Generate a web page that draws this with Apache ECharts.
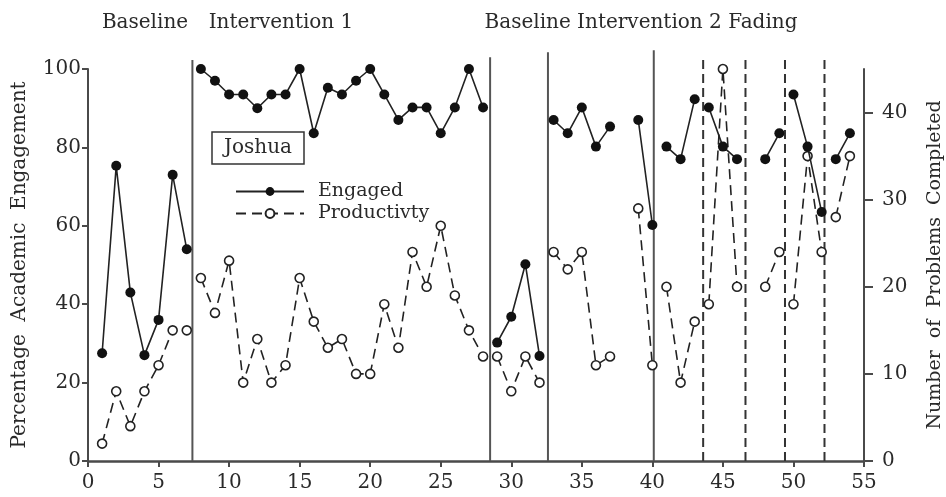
<!DOCTYPE html>
<html>
<head>
<meta charset="utf-8">
<script src="https://cdn.jsdelivr.net/npm/echarts@6/dist/echarts.min.js"></script>
<style>
html,body{margin:0;padding:0;background:#fff;}
#c{width:946px;height:497px;}
</style>
</head>
<body>
<div id="c"></div>
<script>
var sessions = [1,2,3,4,5,6,7,8,9,10,11,12,13,14,15,16,17,18,19,20,21,22,23,24,25,26,27,28,29,30,31,32,33,34,35,36,37,38,39,40,41,42,43,44,45,46,47,48,49,50,51,52,53,54];
var engaged = [27.5,75.3,43,27,36,73,54,
  100,97,93.5,93.5,90,93.5,93.5,100,83.6,95.2,93.5,97,100,93.5,87,90.2,90.2,83.6,90.2,100,90.2,
  30.2,36.8,50.2,26.8,
  87,83.6,90.2,80.2,85.3,null,87,60.2,
  80.2,77,92.3,90.2,80.2,77,null,77,83.6,93.5,80.2,63.5,77,83.6];
var productivity = [2,8,4,8,11,15,15,
  21,17,23,9,14,9,11,21,16,13,14,10,10,18,13,24,20,27,19,15,12,
  12,8,12,9,
  24,22,24,11,12,null,29,11,
  20,9,16,18,45,20,null,20,24,18,35,24,28,35];
var engagedBreaks = [7.5,28.5,32.5,40.5,43.5,49.5,52.5];
var productivityBreaks = [6.5,7.5,28.5,32.5,40.5,43.5,49.5,52.5];
// phase change lines: [session position, top value (left axis), dashed?]
var phaseLines = [[7.4,102.3,0],[28.5,103,0],[32.6,104.3,0],[40.1,104.8,0],[43.6,103.6,1],[46.6,103.6,1],[49.4,103.6,1],[52.2,103.6,1]];
var phaseTitles = ['Baseline','Intervention 1','Baseline Intervention 2 Fading'];
var xTicks = [0,5,10,15,20,25,30,35,40,45,50,55];
var leftTicks = [0,20,40,60,80,100];
var rightTicks = [0,10,20,30,40];

function buildData(vals, breaks){
  var out = [];
  for (var i=0;i<sessions.length;i++){
    if (i>0){
      for (var k=0;k<breaks.length;k++){
        if (breaks[k]>sessions[i-1] && breaks[k]<sessions[i]) out.push([breaks[k], null]);
      }
    }
    out.push([sessions[i], vals[i]]);
  }
  return out;
}

var FONT = "'DejaVu Serif','Liberation Serif',serif";
var TXT = '#2a2a2a';
var AX = '#4a4a4a';

var chart = echarts.init(document.getElementById('c'), null, {renderer:'canvas'});
chart.setOption({
  animation:false,
  backgroundColor:'#fff',
  textStyle:{fontFamily:FONT},
  grid:{left:88,right:82,top:69,bottom:36,outerBoundsMode:'none',containLabel:false},
  legend:{
    data:['Engaged','Productivty'],
    orient:'vertical',
    left:230, top:177,
    itemWidth:68, itemHeight:11, itemGap:3,
    textStyle:{fontFamily:FONT,fontSize:19,color:TXT,padding:[0,0,0,9]},
    selectedMode:false
  },
  graphic:[
    {type:'rect',shape:{x:212,y:132,width:92,height:32},style:{fill:'#fff',stroke:'#333',lineWidth:1.5}},
    {type:'text',x:258,y:148,style:{text:'Joshua',fontFamily:FONT,fontSize:20,fill:TXT,align:'center',verticalAlign:'middle'}},
    {type:'text',x:145,y:23,style:{text:phaseTitles[0],fontFamily:FONT,fontSize:20,fill:TXT,align:'center',verticalAlign:'middle'}},
    {type:'text',x:281,y:23,style:{text:phaseTitles[1],fontFamily:FONT,fontSize:20,fill:TXT,align:'center',verticalAlign:'middle'}},
    {type:'text',x:641,y:23,style:{text:phaseTitles[2],fontFamily:FONT,fontSize:20,fill:TXT,align:'center',verticalAlign:'middle'}}
  ],
  xAxis:{
    type:'value',min:0,max:55,interval:5,
    axisLine:{lineStyle:{color:AX,width:2.5}},
    axisTick:{length:6,lineStyle:{color:AX,width:2},customValues:xTicks},
    axisLabel:{fontFamily:FONT,fontSize:20,color:TXT,margin:12,customValues:xTicks},
    splitLine:{show:false}
  },
  yAxis:[
    {type:'value',min:0,max:100,interval:20,position:'left',
     name:'Percentage  Academic  Engagement',nameLocation:'middle',nameRotate:90,nameGap:58,
     nameTextStyle:{fontFamily:FONT,fontSize:20,color:TXT},
     axisLine:{show:true,lineStyle:{color:AX,width:2}},
     axisTick:{show:true,length:6,lineStyle:{color:AX,width:2},customValues:leftTicks},
     axisLabel:{fontFamily:FONT,fontSize:20,color:TXT,margin:7,customValues:leftTicks},
     splitLine:{show:false}},
    {type:'value',min:0,max:45,position:'right',
     name:'Number  of  Problems  Completed',nameLocation:'middle',nameRotate:90,nameGap:62,
     nameTextStyle:{fontFamily:FONT,fontSize:19,color:TXT},
     axisLine:{show:true,lineStyle:{color:AX,width:2}},
     axisTick:{show:true,length:9,lineStyle:{color:AX,width:2},customValues:rightTicks},
     axisLabel:{fontFamily:FONT,fontSize:20,color:TXT,margin:18,customValues:rightTicks},
     splitLine:{show:false}}
  ],
  series:[
    {
      type:'custom',name:'phases',xAxisIndex:0,yAxisIndex:0,
      data:phaseLines,encode:{x:0,y:1},silent:true,clip:false,z:1,
      renderItem:function(params,api){
        var x = api.value(0);
        var p0 = api.coord([x,0]);
        var p1 = api.coord([x,api.value(1)]);
        var dashed = api.value(2)===1;
        return {type:'line',shape:{x1:p0[0],y1:p0[1],x2:p1[0],y2:p1[1]},
          style:{stroke:dashed?'#333':'#555',lineWidth:2,lineDash:dashed?[9,5]:null}};
      }
    },
    {
      name:'Engaged',type:'line',yAxisIndex:0,
      data:buildData(engaged,engagedBreaks),
      connectNulls:false,
      symbol:'circle',symbolSize:10,showAllSymbol:true,
      lineStyle:{color:'#222',width:1.6},
      itemStyle:{color:'#111',borderColor:'#111',borderWidth:0},
      z:3
    },
    {
      name:'Productivty',type:'line',yAxisIndex:1,
      data:buildData(productivity,productivityBreaks),
      connectNulls:false,
      symbol:'circle',symbolSize:9,showAllSymbol:true,
      lineStyle:{color:'#222',width:1.6,type:[10,6]},
      itemStyle:{color:'#fff',borderColor:'#222',borderWidth:1.6},
      z:2
    }
  ]
});
</script>
</body>
</html>
